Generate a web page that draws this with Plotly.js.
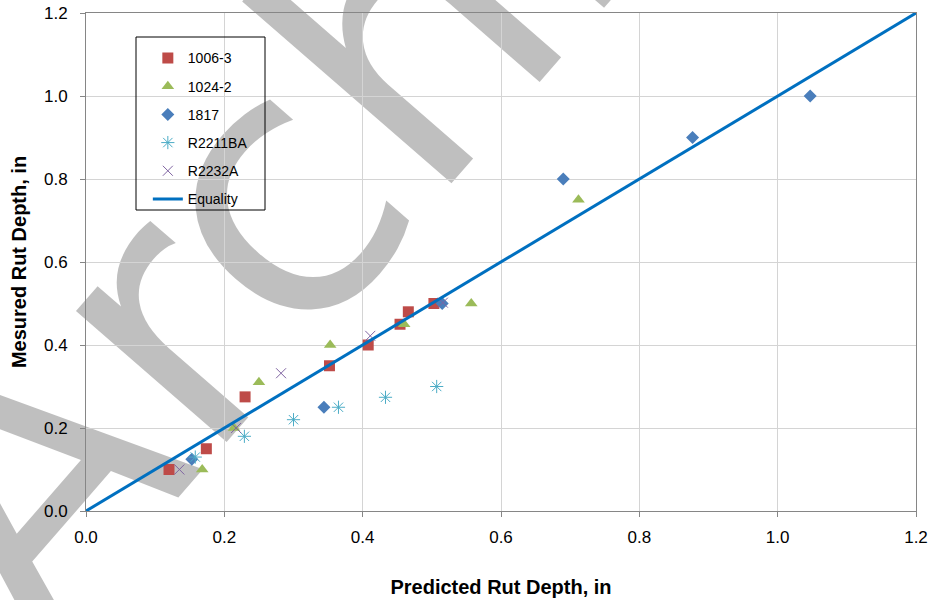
<!DOCTYPE html>
<html>
<head>
<meta charset="utf-8">
<script src="https://cdn.plot.ly/plotly-3.0.1.min.js"></script>
<style>html,body{margin:0;padding:0;background:#fff;}#chart{width:932px;height:600px;}</style>
</head>
<body>
<div id="chart"></div>
<script>
// ---- data ----
const x1006 = [0.120, 0.174, 0.230, 0.352, 0.408, 0.454, 0.466, 0.503];
const y1006 = [0.100, 0.150, 0.275, 0.350, 0.400, 0.450, 0.480, 0.500];

const x1024 = [0.168, 0.214, 0.250, 0.353, 0.460, 0.557, 0.712];
const y1024 = [0.100, 0.200, 0.310, 0.400, 0.450, 0.500, 0.750];

const x1817 = [0.153, 0.344, 0.515, 0.690, 0.877, 1.047];
const y1817 = [0.125, 0.250, 0.500, 0.800, 0.900, 1.000];

const xR2211 = [0.158, 0.229, 0.300, 0.365, 0.433, 0.507];
const yR2211 = [0.130, 0.180, 0.220, 0.250, 0.274, 0.300];

const xR2232 = [0.135, 0.217, 0.282, 0.411, 0.516];
const yR2232 = [0.100, 0.200, 0.332, 0.422, 0.502];

const xEq = [0, 1.2];
const yEq = [0, 1.2];

const tickVals = [0, 0.2, 0.4, 0.6, 0.8, 1.0, 1.2];
const tickText = ['0.0', '0.2', '0.4', '0.6', '0.8', '1.0', '1.2'];

const FONT = 'Liberation Sans, Arial, sans-serif';

const traces = [
  {x: x1006, y: y1006, name: '1006-3', legendgroup: 'a', mode: 'markers', type: 'scatter',
   marker: {symbol: 'square', size: 11, color: '#be4b48'}},
  {x: x1024, y: y1024, name: '1024-2', legendgroup: 'b', mode: 'markers', type: 'scatter',
   marker: {symbol: 'triangle-up', size: 11, color: '#9bbb59'}},
  {x: x1817, y: y1817, name: '1817', legendgroup: 'c', mode: 'markers', type: 'scatter',
   marker: {symbol: 'diamond', size: 10, color: '#4a7ebb'}},
  {x: xR2211, y: yR2211, name: 'R2211BA', legendgroup: 'd', mode: 'markers', type: 'scatter',
   marker: {symbol: 'asterisk-open', size: 11, color: '#4bacc6', line: {color: '#4bacc6', width: 1}}},
  {x: xR2232, y: yR2232, name: 'R2232A', legendgroup: 'e', mode: 'markers', type: 'scatter',
   marker: {symbol: 'x-thin-open', size: 10, color: '#8064a2', line: {color: '#8064a2', width: 1}}},
  {x: xEq, y: yEq, name: 'Equality', legendgroup: 'f', mode: 'lines', type: 'scatter',
   line: {color: '#0070c0', width: 3}}
];

const axisCommon = {
  range: [0, 1.2], tickvals: tickVals, ticktext: tickText,
  showgrid: true, gridcolor: '#d4d4d4', gridwidth: 1,
  showline: true, linecolor: '#868686', linewidth: 1, mirror: true,
  ticks: 'outside', ticklen: 5, tickcolor: '#868686',
  zeroline: false, tickfont: {family: FONT, size: 17, color: '#000'}
};

const layout = {
  width: 932, height: 600,
  margin: {l: 86, r: 16, t: 13, b: 89},
  paper_bgcolor: '#ffffff', plot_bgcolor: 'rgba(0,0,0,0)',
  font: {family: FONT, color: '#000'},
  showlegend: true,
  legend: {x: 0.0745, y: 0.941, xanchor: 'left', yanchor: 'top', bgcolor: 'rgba(0,0,0,0)',
    borderwidth: 0, font: {family: FONT, size: 14, color: '#000'}, tracegroupgap: 7,
    traceorder: 'grouped'},
  xaxis: Object.assign({}, axisCommon, {
    ticklabelstandoff: 6,
    title: {text: '<b>Predicted Rut Depth, in</b>', font: {family: FONT, size: 20, color: '#000'}, standoff: 33}
  }),
  yaxis: Object.assign({}, axisCommon, {
    ticklabelstandoff: 9,
    title: {text: '<b>Mesured Rut Depth, in</b>', font: {family: FONT, size: 20, color: '#000'}, standoff: 11}
  }),
  shapes: [
    {type: 'rect', xref: 'paper', yref: 'paper', x0: 0.4285, x1: 0.4485, y0: 1.1112, y1: 1.1312,
     line: {width: 0}, fillcolor: 'rgba(0,0,0,0)', layer: 'between',
     label: {text: 'Archived', textangle: -49, textposition: 'middle center',
       font: {family: 'DejaVu Sans', size: 365, color: 'rgba(128,128,128,0.5)'}}},
    {type: 'rect', xref: 'paper', yref: 'paper', x0: (136-86)/830, x1: (265-86)/830,
     y0: (511-210)/498, y1: (511-37)/498, line: {color: '#000', width: 1}, fillcolor: 'rgba(0,0,0,0)', layer: 'above'}
  ]
};

Plotly.newPlot('chart', traces, layout, {displayModeBar: false, staticPlot: true});
</script>
</body>
</html>
